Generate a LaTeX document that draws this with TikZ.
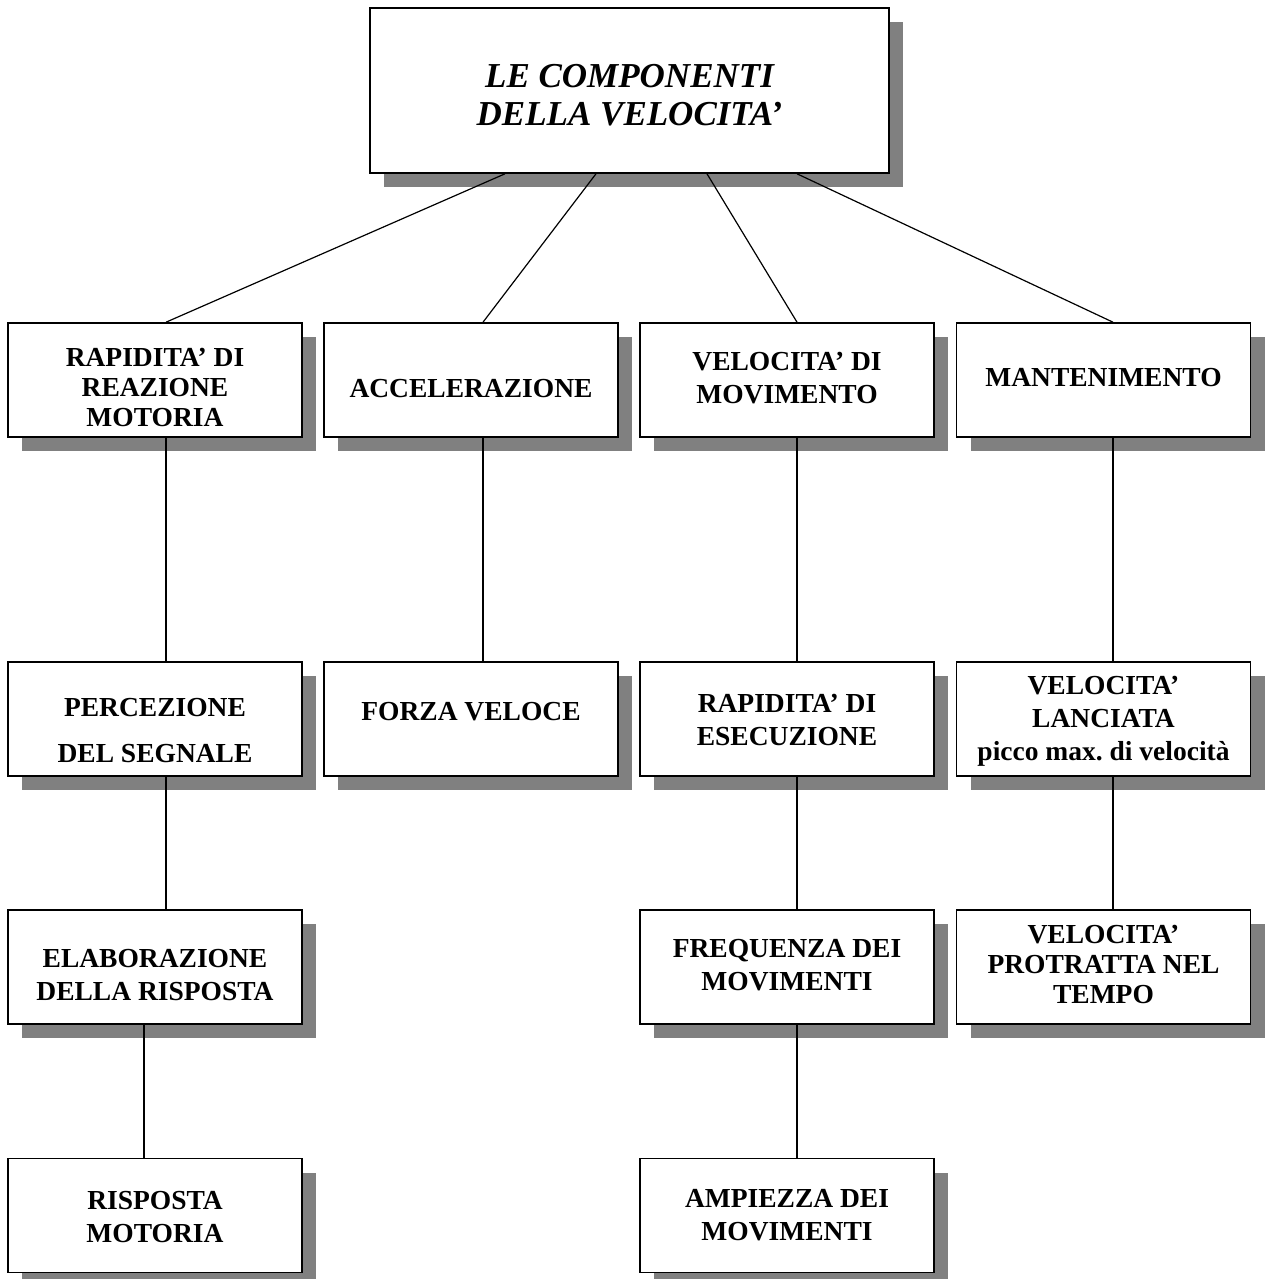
\documentclass[tikz,border=0pt]{standalone}
\usepackage{fontspec}
\setmainfont{Liberation Serif}
\usetikzlibrary{shadows, calc}
% lines of a box, set a little lower (or higher) than the middle
\newcommand{\boxtext}[2][0pt]{\raisebox{-#1}[\height][\depth]{\begin{tabular}{@{}c@{}}#2\end{tabular}}}

\begin{document}
\begin{tikzpicture}[
        x = 0.5pt, y = -0.5pt,
every node/.style = {font=\fontsize{13.75}{16.5}\selectfont\bfseries},
      box/.style = {draw, line width=0.8pt, fill=white,
                    minimum width=147pt, minimum height=57pt, inner sep=2pt,
                    drop shadow={shadow xshift=7pt, shadow yshift=-7pt,
                                 fill=black!50, opacity=1}},
 titlebox/.style = {box, minimum width=259.5pt, minimum height=82.5pt,
                    font=\fontsize{17.5}{19}\selectfont\bfseries\itshape},
    tight/.style = {font=\fontsize{13.75}{15}\selectfont\bfseries},
     link/.style = {line width=0.6pt}
                        ]
\useasboundingbox (0,0) rectangle (1270,1279);
% title
    \node[titlebox] (comp) at (629.5,90.5) {\boxtext[4pt]{LE COMPONENTI\\DELLA VELOCITA'}};
% first row
    \node[box, tight] (reaz) at (155,380)    {\boxtext[5pt]{RAPIDITA' DI\\REAZIONE\\MOTORIA}};
    \node[box]        (acc)  at (471,380)    {\boxtext[5.5pt]{ACCELERAZIONE}};
    \node[box]        (mov)  at (787,380)    {\boxtext{VELOCITA' DI\\MOVIMENTO}};
    \node[box]        (mant) at (1103.5,380) {\boxtext{MANTENIMENTO}};
% second row
    \node[box, font=\fontsize{13.75}{23}\selectfont\bfseries]
                      (perc)  at (155,719)    {\boxtext[5.5pt]{PERCEZIONE\\DEL SEGNALE}};
    \node[box]        (forza) at (471,719)    {\boxtext[-2.5pt]{FORZA VELOCE}};
    \node[box]        (esec)  at (787,719)    {\boxtext[1.75pt]{RAPIDITA' DI\\ESECUZIONE}};
    \node[box]        (lanc)  at (1103.5,719) {\boxtext[1pt]{VELOCITA'\\LANCIATA\\picco max.\ di velocità}};
% third row
    \node[box]        (elab) at (155,967)    {\boxtext[5pt]{ELABORAZIONE\\DELLA RISPOSTA}};
    \node[box]        (freq) at (787,967)    {\boxtext{FREQUENZA DEI\\MOVIMENTI}};
    \node[box, tight] (prot) at (1103.5,967) {\boxtext{VELOCITA'\\PROTRATTA NEL\\TEMPO}};
% fourth row
    \node[box]        (risp) at (155,1215.5) {\boxtext[1.75pt]{RISPOSTA\\MOTORIA}};
    \node[box]        (ampl) at (787,1215.5) {\boxtext[1pt]{AMPIEZZA DEI\\MOVIMENTI}};
% links from the title
    \draw[link] ($(comp.south)+(-124.5,0)$) -- ($(reaz.north)+(11,0)$);
    \draw[link] ($(comp.south)+(-33.5,0)$)  -- ($(acc.north)+(12,0)$);
    \draw[link] ($(comp.south)+(77.5,0)$)   -- ($(mov.north)+(10,0)$);
    \draw[link] ($(comp.south)+(167.5,0)$)  -- ($(mant.north)+(9.5,0)$);
% links down the columns
\foreach \a/\b/\dx in {reaz/perc/11, perc/elab/11, elab/risp/-11,
                       acc/forza/12, mov/esec/10, esec/freq/10, freq/ampl/10,
                       mant/lanc/9.5, lanc/prot/9.5}
    \draw[link] ($(\a.south)+(\dx,0)$) -- ($(\b.north)+(\dx,0)$);
\end{tikzpicture}
\end{document}
